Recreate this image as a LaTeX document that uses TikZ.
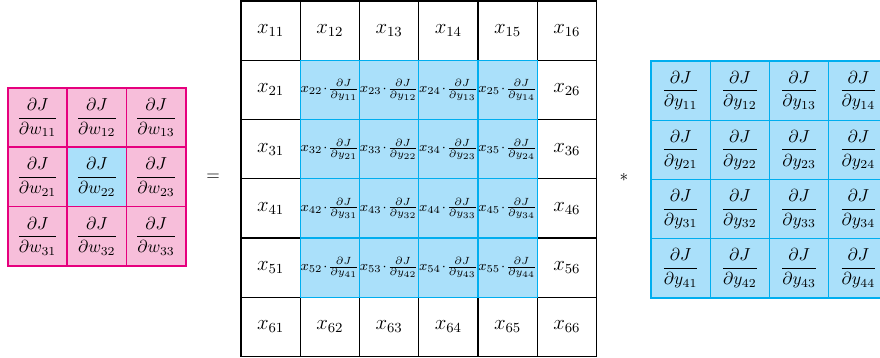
\documentclass[tikz,border=0pt]{standalone}
\usepackage{amsmath}
\definecolor{pinkfill}{RGB}{247,190,218}
\definecolor{pinkline}{RGB}{230,0,126}
\definecolor{bluefill}{RGB}{170,224,250}
\definecolor{blueline}{RGB}{0,174,239}
\begin{document}
\begin{tikzpicture}[x=0.5764pt,y=-0.5764pt,
  cell/.style={rectangle, minimum width=34.15pt, minimum height=34.15pt, inner sep=0pt, outer sep=0pt},
  wcell/.style={cell, draw=pinkline, fill=pinkfill, line width=1pt},
  wcenter/.style={wcell, fill=bluefill},
  xcell/.style={cell, draw=black, fill=white, line width=0.8pt, font=\large},
  pcell/.style={cell, draw=blueline, fill=bluefill, line width=0.7pt, font=\footnotesize},
  ycell/.style={cell, draw=blueline, fill=bluefill, line width=0.8pt},
  op/.style={inner sep=0pt}]
\clip (0,0) rectangle (880,358);
\def\cs{59.25}
% left matrix
\node[wcell]   (w11) at ({8+\cs*0.5},{88+\cs*0.5}) {$\dfrac{\partial J}{\partial w_{11}}$};
\node[wcell]   (w12) at ({8+\cs*1.5},{88+\cs*0.5}) {$\dfrac{\partial J}{\partial w_{12}}$};
\node[wcell]   (w13) at ({8+\cs*2.5},{88+\cs*0.5}) {$\dfrac{\partial J}{\partial w_{13}}$};
\node[wcell]   (w21) at ({8+\cs*0.5},{88+\cs*1.5}) {$\dfrac{\partial J}{\partial w_{21}}$};
\node[wcenter] (w22) at ({8+\cs*1.5},{88+\cs*1.5}) {$\dfrac{\partial J}{\partial w_{22}}$};
\node[wcell]   (w23) at ({8+\cs*2.5},{88+\cs*1.5}) {$\dfrac{\partial J}{\partial w_{23}}$};
\node[wcell]   (w31) at ({8+\cs*0.5},{88+\cs*2.5}) {$\dfrac{\partial J}{\partial w_{31}}$};
\node[wcell]   (w32) at ({8+\cs*1.5},{88+\cs*2.5}) {$\dfrac{\partial J}{\partial w_{32}}$};
\node[wcell]   (w33) at ({8+\cs*2.5},{88+\cs*2.5}) {$\dfrac{\partial J}{\partial w_{33}}$};
% middle matrix border cells
\foreach \i in {1,6}{
  \foreach \j in {1,...,6}{
    \node[xcell] (x\i\j) at ({241+\cs*(\j-0.5)},{1+\cs*(\i-0.5)}) {$x_{\i\j}$};
  }
}
\foreach \i in {2,...,5}{
  \foreach \j in {1,6}{
    \node[xcell] (x\i\j) at ({241+\cs*(\j-0.5)},{1+\cs*(\i-0.5)}) {$x_{\i\j}$};
  }
}
% middle matrix inner cells
\foreach \i in {2,...,5}{
  \foreach \j in {2,...,5}{
    \pgfmathtruncatemacro{\a}{\i-1}
    \pgfmathtruncatemacro{\b}{\j-1}
    \node[pcell] (x\i\j) at ({241+\cs*(\j-0.5)},{1+\cs*(\i-0.5)}) {$x_{\i\j}\mkern1mu{\cdot}\mkern1mu\frac{\partial J}{\partial y_{\a\b}}$};
  }
}
% right matrix
\foreach \i in {1,...,4}{
  \foreach \j in {1,...,4}{
    \node[ycell] (y\i\j) at ({651+\cs*(\j-0.5)},{61+\cs*(\i-0.5)}) {$\dfrac{\partial J}{\partial y_{\i\j}}$};
  }
}
\node[op] (eq) at (213,177) {$=$};
\node[op] (star) at (624,177) {$*$};
\end{tikzpicture}
\end{document}
